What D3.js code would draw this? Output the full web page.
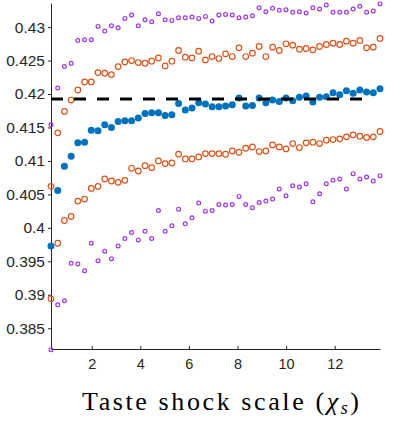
<!DOCTYPE html>
<html>
<head>
<meta charset="utf-8">
<script src="https://cdn.jsdelivr.net/npm/d3@7"></script>
<style>
  html, body { margin: 0; padding: 0; background: #fff; }
  svg { display: block; }
</style>
</head>
<body>
<figure id="chart" style="margin:0"></figure>
<script>
// chi grid: 50 evenly spaced points
const chiMin = 0.325;
const chiMax = 13.864;
const nPoints = 50;

// mean estimate
const meanValues = [
  0.3973, 0.4056, 0.4092, 0.4107, 0.4127, 0.4128, 0.4146, 0.4145, 0.4154, 0.4150,
  0.4159, 0.4160, 0.4160, 0.4164, 0.4171, 0.4172, 0.4172, 0.4168, 0.4169, 0.4186,
  0.4176, 0.4179, 0.4187, 0.4185, 0.4181, 0.4181, 0.4182, 0.4184, 0.4194, 0.4182,
  0.4183, 0.4194, 0.4187, 0.4191, 0.4189, 0.4194, 0.4190, 0.4195, 0.4197, 0.4188,
  0.4195, 0.4196, 0.4202, 0.4199, 0.4205, 0.4201, 0.4206, 0.4203, 0.4202, 0.4208
];
// inner band (orange)
const innerUpper = [
  0.4062, 0.4142, 0.4174, 0.4191, 0.4206, 0.4218, 0.4218, 0.4232, 0.4231, 0.4229,
  0.4241, 0.4248, 0.4250, 0.4247, 0.4246, 0.4249, 0.4254, 0.4242, 0.4249, 0.4265,
  0.4255, 0.4254, 0.4264, 0.4251, 0.4256, 0.4253, 0.4260, 0.4256, 0.4269, 0.4256,
  0.4261, 0.4271, 0.4256, 0.4270, 0.4265, 0.4275, 0.4273, 0.4267, 0.4268, 0.4266,
  0.4271, 0.4274, 0.4276, 0.4274, 0.4279, 0.4276, 0.4280, 0.4269, 0.4270, 0.4283
];
const innerLower = [
  0.3894, 0.3977, 0.4011, 0.4017, 0.4040, 0.4043, 0.4059, 0.4062, 0.4073, 0.4070,
  0.4068, 0.4071, 0.4089, 0.4085, 0.4093, 0.4090, 0.4100, 0.4096, 0.4097, 0.4110,
  0.4103, 0.4103, 0.4106, 0.4111, 0.4111, 0.4111, 0.4110, 0.4115, 0.4113, 0.4119,
  0.4121, 0.4114, 0.4115, 0.4124, 0.4121, 0.4118, 0.4126, 0.4120, 0.4127, 0.4128,
  0.4126, 0.4131, 0.4132, 0.4133, 0.4136, 0.4139, 0.4137, 0.4135, 0.4136, 0.4144
];
// outer band (purple)
const outerUpper = [
  0.4154, 0.4209, 0.4241, 0.4246, 0.4280, 0.4281, 0.4281, 0.4301, 0.4294, 0.4302,
  0.4299, 0.4313, 0.4318, 0.4302, 0.4311, 0.4308, 0.4320, 0.4311, 0.4310, 0.4314,
  0.4314, 0.4315, 0.4313, 0.4316, 0.4309, 0.4318, 0.4319, 0.4318, 0.4314, 0.4315,
  0.4317, 0.4329, 0.4323, 0.4328, 0.4325, 0.4326, 0.4322, 0.4323, 0.4321, 0.4329,
  0.4327, 0.4333, 0.4322, 0.4322, 0.4322, 0.4327, 0.4331, 0.4322, 0.4324, 0.4335
];
const outerLower = [
  0.3818, 0.3885, 0.3891, 0.3947, 0.3946, 0.3936, 0.3977, 0.3951, 0.3965, 0.3954,
  0.3973, 0.3984, 0.3993, 0.3982, 0.3995, 0.3984, 0.4026, 0.3995, 0.4003, 0.4028,
  0.4006, 0.4015, 0.4037, 0.4025, 0.4026, 0.4035, 0.4034, 0.4035, 0.4047, 0.4035,
  0.4030, 0.4038, 0.4040, 0.4043, 0.4058, 0.4048, 0.4063, 0.4061, 0.4066, 0.4039,
  0.4051, 0.4066, 0.4071, 0.4073, 0.4058, 0.4081, 0.4073, 0.4076, 0.4070, 0.4078
];
const referenceLevel = 0.41925;
const referenceEnd = 13.42;

const xTicks = [2, 4, 6, 8, 10, 12];
const yTicks = [0.385, 0.39, 0.395, 0.4, 0.405, 0.41, 0.415, 0.42, 0.425, 0.43];
const yDomain = [0.3819, 0.4336];

const width = 393, height = 423;
const margin = { left: 51, top: 3, right: 13, bottom: 74 };
const innerW = width - margin.left - margin.right;
const innerH = height - margin.top - margin.bottom;

const chi = d3.range(nPoints).map(i => chiMin + i * (chiMax - chiMin) / (nPoints - 1));

const x = d3.scaleLinear().domain([chiMin, chiMax]).range([0, innerW]);
const y = d3.scaleLinear().domain(yDomain).range([innerH, 0]);

const svg = d3.select("#chart")
  .append("svg")
  .attr("width", width)
  .attr("height", height);

const g = svg.append("g")
  .attr("transform", "translate(" + margin.left + "," + margin.top + ")");

const axisColor = "#262626";
const tickFont = "'Liberation Sans', Arial, Helvetica, sans-serif";

// x axis, ticks pointing inward
const xAxis = g.append("g")
  .attr("transform", "translate(0," + innerH + ")")
  .call(d3.axisBottom(x).tickValues(xTicks).tickSizeInner(-3).tickSizeOuter(0).tickPadding(10));
xAxis.select(".domain").attr("stroke", axisColor);
xAxis.selectAll(".tick line").attr("stroke", axisColor);
xAxis.selectAll("text")
  .attr("fill", axisColor)
  .style("font-family", tickFont)
  .style("font-size", "14.5px");

// y axis
const yAxis = g.append("g")
  .call(d3.axisLeft(y).tickValues(yTicks).tickFormat(d3.format("~g")).tickSizeInner(3).tickSizeOuter(0).tickPadding(3));
yAxis.select(".domain").attr("stroke", axisColor);
yAxis.selectAll(".tick line").attr("stroke", axisColor);
yAxis.selectAll("text")
  .attr("fill", axisColor)
  .style("font-family", tickFont)
  .style("font-size", "15.5px");

// markers
function drawSeries(values, opts) {
  g.append("g")
    .selectAll("circle")
    .data(values)
    .enter()
    .append("circle")
    .attr("cx", (d, i) => x(chi[i]))
    .attr("cy", d => y(d))
    .attr("r", opts.r)
    .attr("fill", opts.fill)
    .attr("stroke", opts.stroke)
    .attr("stroke-width", opts.sw);
}

const purple = "#9b35e6";
const orange = "#d95319";
const blue = "#0072bd";

drawSeries(outerUpper, { r: 1.9, fill: "none", stroke: purple, sw: 1.2 });
drawSeries(outerLower, { r: 1.9, fill: "none", stroke: purple, sw: 1.2 });
drawSeries(innerUpper, { r: 2.8, fill: "none", stroke: orange, sw: 1.2 });
drawSeries(innerLower, { r: 2.8, fill: "none", stroke: orange, sw: 1.2 });
drawSeries(meanValues, { r: 3.5, fill: blue, stroke: "none", sw: 0 });

// reference level
g.append("line")
  .attr("x1", x(chiMin))
  .attr("x2", x(referenceEnd))
  .attr("y1", y(referenceLevel))
  .attr("y2", y(referenceLevel))
  .attr("stroke", "#000")
  .attr("stroke-width", 3)
  .attr("stroke-dasharray", "12,11");

// x label (LaTeX-style serif, stretched to the original width)
const label = svg.append("text")
  .attr("x", 82)
  .attr("y", 410)
  .attr("text-anchor", "start")
  .attr("textLength", 277)
  .attr("lengthAdjust", "spacing")
  .attr("fill", "#000")
  .style("font-family", "'Liberation Serif', 'Times New Roman', serif")
  .style("font-size", "26px");
label.append("tspan").text("Taste shock scale (");
label.append("tspan").style("font-style", "italic").text("χ");
label.append("tspan").style("font-style", "italic").style("font-size", "18px").attr("dy", 4).text("s");
label.append("tspan").attr("dy", -4).text(")");
</script>
</body>
</html>
